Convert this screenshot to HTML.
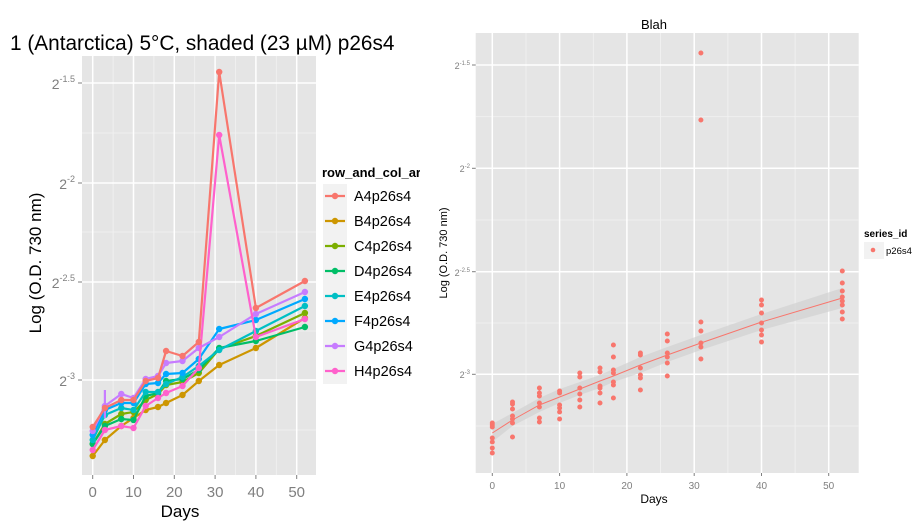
<!DOCTYPE html>
<html><head><meta charset="utf-8"><style>
body{margin:0;background:#fff;}
svg{display:block;font-family:"Liberation Sans",sans-serif;}
</style></head><body>
<svg width="924" height="528" viewBox="0 0 924 528" xmlns="http://www.w3.org/2000/svg">
<defs>
<marker id="mA" markerWidth="8" markerHeight="8" refX="4" refY="4" markerUnits="userSpaceOnUse"><circle cx="4" cy="4" r="3.2" fill="#F8766D"/></marker>
<marker id="mB" markerWidth="8" markerHeight="8" refX="4" refY="4" markerUnits="userSpaceOnUse"><circle cx="4" cy="4" r="3.2" fill="#CD9600"/></marker>
<marker id="mC" markerWidth="8" markerHeight="8" refX="4" refY="4" markerUnits="userSpaceOnUse"><circle cx="4" cy="4" r="3.2" fill="#7CAE00"/></marker>
<marker id="mD" markerWidth="8" markerHeight="8" refX="4" refY="4" markerUnits="userSpaceOnUse"><circle cx="4" cy="4" r="3.2" fill="#00BE67"/></marker>
<marker id="mE" markerWidth="8" markerHeight="8" refX="4" refY="4" markerUnits="userSpaceOnUse"><circle cx="4" cy="4" r="3.2" fill="#00BFC4"/></marker>
<marker id="mF" markerWidth="8" markerHeight="8" refX="4" refY="4" markerUnits="userSpaceOnUse"><circle cx="4" cy="4" r="3.2" fill="#00A9FF"/></marker>
<marker id="mG" markerWidth="8" markerHeight="8" refX="4" refY="4" markerUnits="userSpaceOnUse"><circle cx="4" cy="4" r="3.2" fill="#C77CFF"/></marker>
<marker id="mH" markerWidth="8" markerHeight="8" refX="4" refY="4" markerUnits="userSpaceOnUse"><circle cx="4" cy="4" r="3.2" fill="#FF61CC"/></marker>
</defs>

<!-- LEFT PANEL -->
<text x="10" y="50" font-size="20.8" fill="#000">1 (Antarctica) 5°C, shaded (23 µM) p26s4</text>
<rect x="82" y="56" width="234" height="419" fill="#e5e5e5"/>
<g stroke="#f2f2f2" stroke-width="0.8">
<line x1="82" x2="316" y1="133" y2="133"/><line x1="82" x2="316" y1="232" y2="232"/><line x1="82" x2="316" y1="331" y2="331"/><line x1="82" x2="316" y1="430" y2="430"/>
<line y1="56" y2="475" x1="113.1" x2="113.1"/><line y1="56" y2="475" x1="153.9" x2="153.9"/><line y1="56" y2="475" x1="194.7" x2="194.7"/><line y1="56" y2="475" x1="235.5" x2="235.5"/><line y1="56" y2="475" x1="276.3" x2="276.3"/>
</g>
<g stroke="#fff" stroke-width="1.5">
<line x1="82" x2="316" y1="83" y2="83"/><line x1="82" x2="316" y1="183" y2="183"/><line x1="82" x2="316" y1="282" y2="282"/><line x1="82" x2="316" y1="380" y2="380"/>
<line y1="56" y2="475" x1="92.7" x2="92.7"/><line y1="56" y2="475" x1="133.5" x2="133.5"/><line y1="56" y2="475" x1="174.3" x2="174.3"/><line y1="56" y2="475" x1="215.1" x2="215.1"/><line y1="56" y2="475" x1="255.9" x2="255.9"/><line y1="56" y2="475" x1="296.7" x2="296.7"/>
</g>
<g stroke="#7f7f7f" stroke-width="1">
<line x1="78" x2="82" y1="83" y2="83"/><line x1="78" x2="82" y1="183" y2="183"/><line x1="78" x2="82" y1="282" y2="282"/><line x1="78" x2="82" y1="380" y2="380"/>
<line y1="475" y2="479" x1="92.7" x2="92.7"/><line y1="475" y2="479" x1="133.5" x2="133.5"/><line y1="475" y2="479" x1="174.3" x2="174.3"/><line y1="475" y2="479" x1="215.1" x2="215.1"/><line y1="475" y2="479" x1="255.9" x2="255.9"/><line y1="475" y2="479" x1="296.7" x2="296.7"/>
</g>
<g fill="#7f7f7f" font-size="14" text-anchor="end">
<text x="75" y="89">2<tspan font-size="9" dy="-7">-1.5</tspan></text>
<text x="75" y="189">2<tspan font-size="9" dy="-7">-2</tspan></text>
<text x="75" y="288">2<tspan font-size="9" dy="-7">-2.5</tspan></text>
<text x="75" y="386">2<tspan font-size="9" dy="-7">-3</tspan></text>
</g>
<g fill="#7f7f7f" font-size="15" text-anchor="middle">
<text x="92.7" y="497">0</text><text x="133.5" y="497">10</text><text x="174.3" y="497">20</text><text x="215.1" y="497">30</text><text x="255.9" y="497">40</text><text x="296.7" y="497">50</text>
</g>
<text x="180" y="517" font-size="17" text-anchor="middle">Days</text>
<text transform="translate(41,263) rotate(-90)" font-size="17" text-anchor="middle">Log (O.D. 730 nm)</text>

<g fill="none" stroke-width="2.2" stroke-linejoin="round">
<polyline stroke="#CD9600" marker-start="url(#mB)" marker-mid="url(#mB)" marker-end="url(#mB)" points="92.7,456 104.9,440 121.3,426 133.5,418 145.7,410 158,407 166.1,403 182.5,395 198.8,381 219.2,365 255.9,348 304.9,318"/>
<polyline stroke="#7CAE00" marker-start="url(#mC)" marker-mid="url(#mC)" marker-end="url(#mC)" points="92.7,444 104.9,424 121.3,414 133.5,412 145.7,400 158,394 166.1,385 182.5,382 198.8,373 219.2,349 255.9,336 304.9,313"/>
<polyline stroke="#00BE67" marker-start="url(#mD)" marker-mid="url(#mD)" marker-end="url(#mD)" points="92.7,444 104.9,426 121.3,419 133.5,420 145.7,396 158,393 166.1,381 182.5,379 198.8,370 219.2,348 255.9,341 304.9,327"/>
<polyline stroke="#00BFC4" marker-start="url(#mE)" marker-mid="url(#mE)" marker-end="url(#mE)" points="92.7,440 104.9,415 121.3,408 133.5,410 145.7,392 158,392 166.1,384 182.5,377 198.8,366 219.2,350 255.9,331 304.9,306"/>
<polyline stroke="#00A9FF" marker-start="url(#mF)" marker-mid="url(#mF)" marker-end="url(#mF)" points="92.7,435 104.9,410 121.3,403 133.5,403 145.7,384 158,383 166.1,374 182.5,373 198.8,359 219.2,329 255.9,320 304.9,299"/>
<polyline stroke="#C77CFF" marker-start="url(#mG)" marker-mid="url(#mG)" marker-end="url(#mG)" points="92.7,431 104.9,406 121.3,394 133.5,398 145.7,379 158,376 166.1,363 182.5,361 198.8,348 219.2,337 255.9,314 304.9,292"/>
<line x1="104.9" y1="390" x2="104.9" y2="418" stroke="#C77CFF"/>
<polyline stroke="#FF61CC" marker-start="url(#mH)" marker-mid="url(#mH)" marker-end="url(#mH)" points="92.7,450 104.9,430 121.3,426 133.5,428 145.7,406 158,398 166.1,393 182.5,386 198.8,368 219.2,135 255.9,337 304.9,319"/>
<polyline stroke="#F8766D" marker-start="url(#mA)" marker-mid="url(#mA)" marker-end="url(#mA)" points="92.7,427 104.9,408 121.3,400 133.5,400 145.7,381 158,378 166.1,351 182.5,356 198.8,342 219.2,72 255.9,308 304.9,281"/>
</g>

<!-- left legend -->
<text x="322" y="177" font-size="13" font-weight="bold">row_and_col_ar</text>
<rect x="323" y="184" width="24" height="200" fill="#f2f2f2"/>
<g stroke-width="2.2">
<line x1="325" x2="345" y1="196" y2="196" stroke="#F8766D"/><circle cx="335" cy="196" r="3.2" fill="#F8766D"/>
<line x1="325" x2="345" y1="221" y2="221" stroke="#CD9600"/><circle cx="335" cy="221" r="3.2" fill="#CD9600"/>
<line x1="325" x2="345" y1="246" y2="246" stroke="#7CAE00"/><circle cx="335" cy="246" r="3.2" fill="#7CAE00"/>
<line x1="325" x2="345" y1="271" y2="271" stroke="#00BE67"/><circle cx="335" cy="271" r="3.2" fill="#00BE67"/>
<line x1="325" x2="345" y1="296" y2="296" stroke="#00BFC4"/><circle cx="335" cy="296" r="3.2" fill="#00BFC4"/>
<line x1="325" x2="345" y1="321" y2="321" stroke="#00A9FF"/><circle cx="335" cy="321" r="3.2" fill="#00A9FF"/>
<line x1="325" x2="345" y1="346" y2="346" stroke="#C77CFF"/><circle cx="335" cy="346" r="3.2" fill="#C77CFF"/>
<line x1="325" x2="345" y1="371" y2="371" stroke="#FF61CC"/><circle cx="335" cy="371" r="3.2" fill="#FF61CC"/>
</g>
<g font-size="14.5" fill="#000">
<text x="354" y="201">A4p26s4</text><text x="354" y="226">B4p26s4</text><text x="354" y="251">C4p26s4</text><text x="354" y="276">D4p26s4</text>
<text x="354" y="301">E4p26s4</text><text x="354" y="326">F4p26s4</text><text x="354" y="351">G4p26s4</text><text x="354" y="376">H4p26s4</text>
</g>
<rect x="420" y="0" width="20" height="528" fill="#fff"/>

<!-- RIGHT PANEL -->
<text x="654" y="29" font-size="13" text-anchor="middle">Blah</text>
<rect x="475.7" y="33" width="383" height="440" fill="#e5e5e5"/>
<g stroke="#f2f2f2" stroke-width="0.8">
<line x1="475.7" x2="858.7" y1="116.7" y2="116.7"/><line x1="475.7" x2="858.7" y1="220" y2="220"/><line x1="475.7" x2="858.7" y1="323" y2="323"/><line x1="475.7" x2="858.7" y1="426" y2="426"/>
<line y1="33" y2="473" x1="526" x2="526"/><line y1="33" y2="473" x1="593.3" x2="593.3"/><line y1="33" y2="473" x1="660.6" x2="660.6"/><line y1="33" y2="473" x1="727.9" x2="727.9"/><line y1="33" y2="473" x1="795.1" x2="795.1"/>
</g>
<g stroke="#fff" stroke-width="1.5">
<line x1="475.7" x2="858.7" y1="65" y2="65"/><line x1="475.7" x2="858.7" y1="168.3" y2="168.3"/><line x1="475.7" x2="858.7" y1="271.7" y2="271.7"/><line x1="475.7" x2="858.7" y1="374.3" y2="374.3"/>
<line y1="33" y2="473" x1="492.3" x2="492.3"/><line y1="33" y2="473" x1="559.6" x2="559.6"/><line y1="33" y2="473" x1="626.9" x2="626.9"/><line y1="33" y2="473" x1="694.2" x2="694.2"/><line y1="33" y2="473" x1="761.5" x2="761.5"/><line y1="33" y2="473" x1="828.7" x2="828.7"/>
</g>
<g stroke="#7f7f7f" stroke-width="1">
<line x1="472" x2="475.7" y1="65" y2="65"/><line x1="472" x2="475.7" y1="168.3" y2="168.3"/><line x1="472" x2="475.7" y1="271.7" y2="271.7"/><line x1="472" x2="475.7" y1="374.3" y2="374.3"/>
<line y1="473" y2="476" x1="492.3" x2="492.3"/><line y1="473" y2="476" x1="559.6" x2="559.6"/><line y1="473" y2="476" x1="626.9" x2="626.9"/><line y1="473" y2="476" x1="694.2" x2="694.2"/><line y1="473" y2="476" x1="761.5" x2="761.5"/><line y1="473" y2="476" x1="828.7" x2="828.7"/>
</g>
<g fill="#7f7f7f" font-size="9" text-anchor="end">
<text x="470" y="69">2<tspan font-size="6" dy="-4">-1.5</tspan></text>
<text x="470" y="172">2<tspan font-size="6" dy="-4">-2</tspan></text>
<text x="470" y="276">2<tspan font-size="6" dy="-4">-2.5</tspan></text>
<text x="470" y="378">2<tspan font-size="6" dy="-4">-3</tspan></text>
</g>
<g fill="#7f7f7f" font-size="10" text-anchor="middle">
<text x="492.3" y="489">0</text><text x="559.6" y="489">10</text><text x="626.9" y="489">20</text><text x="694.2" y="489">30</text><text x="761.5" y="489">40</text><text x="828.7" y="489">50</text>
</g>
<text x="654" y="503" font-size="12" text-anchor="middle">Days</text>
<text transform="translate(447,253) rotate(-90)" font-size="11" text-anchor="middle">Log (O.D. 730 nm)</text>

<path d="M492.3,424 L512.5,413 539.4,398 559.6,389 579.8,382 600,375 613.4,369 640.4,357 667.3,347 700.9,335 761.5,314 842.3,288 L842.3,308 761.5,330 700.9,350 667.3,362 640.4,373 613.4,382 600,388 579.8,395 559.6,403 539.4,412 512.5,426 492.3,442 Z" fill="#d2d2d2" opacity="0.7"/>
<polyline fill="none" stroke="#F8766D" stroke-width="1" points="492.3,433 512.5,420 539.4,405 559.6,397 579.8,389 600,381 613.4,376 640.4,365 667.3,355 700.9,343 761.5,322 842.3,298"/>
<path fill="none" stroke="#F8766D" stroke-width="5" stroke-linecap="round" d="
M492.3,423h0M492.3,425h0M492.3,427h0M492.3,438h0M492.3,442h0M492.3,448h0M492.3,453h0
M512.5,402h0M512.5,404h0M512.5,409h0M512.5,416h0M512.5,419h0M512.5,423h0M512.5,437h0
M539.4,388h0M539.4,393h0M539.4,396h0M539.4,403h0M539.4,407h0M539.4,418h0M539.4,422h0
M559.6,391h0M559.6,393h0M559.6,405h0M559.6,408h0M559.6,412h0M559.6,419h0
M579.8,373h0M579.8,377h0M579.8,388h0M579.8,394h0M579.8,400h0M579.8,407h0
M600,368h0M600,372h0M600,386h0M600,388h0M600,393h0M600,403h0
M613.4,345h0M613.4,357h0M613.4,370h0M613.4,373h0M613.4,382h0M613.4,385h0M613.4,398h0
M640.4,353h0M640.4,355h0M640.4,368h0M640.4,375h0M640.4,378h0M640.4,390h0
M667.3,334h0M667.3,341h0M667.3,353h0M667.3,357h0M667.3,363h0M667.3,376h0
M700.9,53h0M700.9,120h0M700.9,322h0M700.9,331h0M700.9,343h0M700.9,347h0M700.9,359h0
M761.5,300h0M761.5,305h0M761.5,313h0M761.5,323h0M761.5,330h0M761.5,335h0M761.5,342h0
M842.3,271h0M842.3,283h0M842.3,291h0M842.3,297h0M842.3,301h0M842.3,305h0M842.3,312h0M842.3,319h0"/>

<text x="864" y="237" font-size="10" font-weight="bold">series_id</text>
<rect x="864" y="242" width="20" height="17" fill="#f2f2f2"/>
<circle cx="873" cy="250" r="2.3" fill="#F8766D"/>
<text x="886" y="254" font-size="9.5">p26s4</text>
</svg>
</body></html>
